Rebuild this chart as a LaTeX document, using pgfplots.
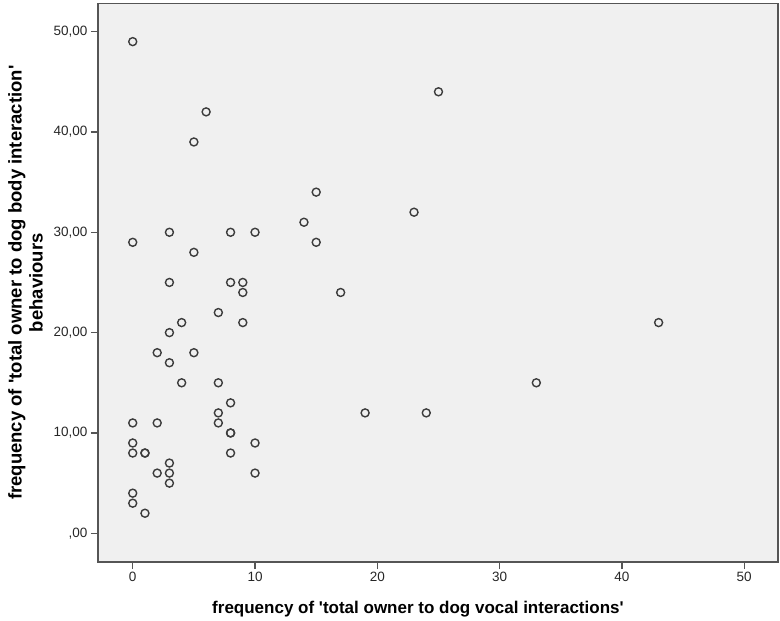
\documentclass[border=0pt]{standalone}
\usepackage{fontspec}
\setmainfont{Liberation Sans}
\usepackage{pgfplots}
\usepackage{pgfplotstable}
\pgfplotsset{compat=1.18}

\definecolor{plotbg}{HTML}{F0F0F0}
\definecolor{framec}{HTML}{555555}
\definecolor{markc}{HTML}{3C3C3C}

% vocal interactions (x) against body interactions (y), one row per owner
\pgfplotstableread{
x  y
0  49
6  42
5  39
25 44
15 34
14 31
23 32
0  29
3  30
8  30
10 30
15 29
5  28
3  25
8  25
9  25
9  24
17 24
4  21
9  21
7  22
43 21
3  20
2  18
5  18
3  17
4  15
7  15
33 15
8  13
7  12
19 12
24 12
0  11
2  11
7  11
8  10
8  10
10 9
0  9
0  8
1  8
1  8
8  8
3  7
2  6
3  6
10 6
3  5
0  4
0  3
1  2
}\owners

\begin{document}
\begin{tikzpicture}[x=1pt,y=1pt]
\begin{axis}[
  at={(0,0)}, anchor=south west,
  scale only axis, width=680pt, height=558.5pt,
  xmin=-2.84, xmax=52.76, ymin=-2.86, ymax=52.8,
  axis background/.style={fill=plotbg},
  axis line style={framec, line width=1.5pt},
  tick pos=left, tick align=outside,
  major tick length=7pt,
  tick style={framec, line width=1.2pt},
  xtick={0,10,...,50}, ytick={0,10,...,50},
  yticklabels={{,00},{10,00},{20,00},{30,00},{40,00},{50,00}},
  /pgf/number format/assume math mode=true,
  ticklabel style={font=\fontsize{13.5}{16}\selectfont, text=black!85},
  xlabel={\textbf{frequency of \textquotesingle total owner to dog vocal interactions\textquotesingle}},
  xlabel style={at={(axis description cs:0.4705,0)}, anchor=center, yshift=-47pt,
    font=\fontsize{17}{20}\selectfont},
  ylabel={\textbf{frequency of \textquotesingle total owner to dog body interaction\textquotesingle}\\\textbf{behaviours}},
  ylabel style={at={(axis description cs:-0.1066,0.5)}, anchor=center,
    align=center, font=\fontsize{18.5}{21}\selectfont},
]
\addplot[only marks, mark=o, mark size=4pt,
  mark options={draw=markc, line width=1.4pt}] table[x=x, y=y] {\owners};
\end{axis}
\path[use as bounding box] (-98,-58) rectangle (682,562);
\end{tikzpicture}
\end{document}
